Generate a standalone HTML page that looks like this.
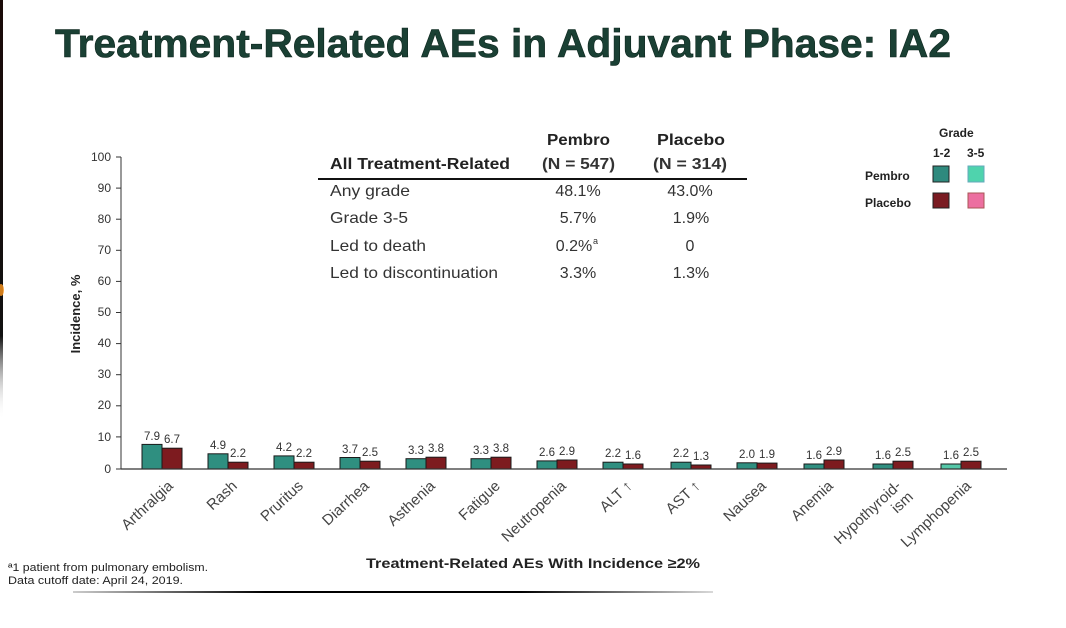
<!DOCTYPE html>
<html><head><meta charset="utf-8"><style>
html,body{margin:0;padding:0;background:#fff;}
svg{display:block;}
text{font-family:"Liberation Sans",Arial,sans-serif;}
</style></head><body>
<svg width="1066" height="628" viewBox="0 0 1066 628" xmlns="http://www.w3.org/2000/svg">
<defs>
<linearGradient id="lstrip" x1="0" y1="0" x2="0" y2="1">
<stop offset="0" stop-color="#1a0a08"/><stop offset="0.8" stop-color="#111"/><stop offset="1" stop-color="#fff" stop-opacity="0"/>
</linearGradient>
<linearGradient id="bline" x1="0" y1="0" x2="1" y2="0">
<stop offset="0" stop-color="#000" stop-opacity="0.2"/><stop offset="0.3" stop-color="#000"/><stop offset="0.7" stop-color="#000"/><stop offset="1" stop-color="#000" stop-opacity="0.15"/>
</linearGradient>
</defs>
<rect x="0" y="0" width="1066" height="628" fill="#fff"/>
<rect x="0" y="0" width="3" height="420" fill="url(#lstrip)"/>
<ellipse cx="1" cy="290" rx="3" ry="6" fill="#f2901e" opacity="0.85"/>

<!-- Title -->
<text x="55" y="57" font-size="40" font-weight="bold" fill="#1a4034" stroke="#0c241c" stroke-width="0.6" textLength="896" lengthAdjust="spacingAndGlyphs">Treatment-Related AEs in Adjuvant Phase: IA2</text>

<!-- Y axis -->
<g stroke="#333" stroke-width="1">
<line x1="121" y1="157" x2="121" y2="469"/>
<line x1="116" y1="157" x2="121" y2="157"/>
<line x1="116" y1="188.1" x2="121" y2="188.1"/>
<line x1="116" y1="219.2" x2="121" y2="219.2"/>
<line x1="116" y1="250.3" x2="121" y2="250.3"/>
<line x1="116" y1="281.4" x2="121" y2="281.4"/>
<line x1="116" y1="312.5" x2="121" y2="312.5"/>
<line x1="116" y1="343.6" x2="121" y2="343.6"/>
<line x1="116" y1="374.7" x2="121" y2="374.7"/>
<line x1="116" y1="405.8" x2="121" y2="405.8"/>
<line x1="116" y1="436.9" x2="121" y2="436.9"/>
<line x1="116" y1="469" x2="121" y2="469"/>
</g>
<g font-size="12" fill="#333" text-anchor="end">
<text x="111" y="161">100</text>
<text x="111" y="192">90</text>
<text x="111" y="223">80</text>
<text x="111" y="254">70</text>
<text x="111" y="285">60</text>
<text x="111" y="316">50</text>
<text x="111" y="347">40</text>
<text x="111" y="378">30</text>
<text x="111" y="409">20</text>
<text x="111" y="441">10</text>
<text x="111" y="473">0</text>
</g>
<text transform="translate(80,314) rotate(-90)" font-size="13" font-weight="bold" fill="#222" text-anchor="middle">Incidence, %</text>

<!-- Bars -->
<g stroke="#1a1a1a" stroke-width="1">
<rect x="142" y="444.4" width="20" height="24.6" fill="#2f8f80"/><rect x="162" y="448.2" width="20" height="20.8" fill="#7d1b1f"/>
<rect x="208" y="453.8" width="20" height="15.2" fill="#2f8f80"/><rect x="228" y="462.2" width="20" height="6.8" fill="#7d1b1f"/>
<rect x="274" y="455.9" width="20" height="13.1" fill="#2f8f80"/><rect x="294" y="462.2" width="20" height="6.8" fill="#7d1b1f"/>
<rect x="340" y="457.5" width="20" height="11.5" fill="#2f8f80"/><rect x="360" y="461.2" width="20" height="7.8" fill="#7d1b1f"/>
<rect x="406" y="458.7" width="20" height="10.3" fill="#2f8f80"/><rect x="426" y="457.2" width="20" height="11.8" fill="#7d1b1f"/>
<rect x="471" y="458.7" width="20" height="10.3" fill="#2f8f80"/><rect x="491" y="457.2" width="20" height="11.8" fill="#7d1b1f"/>
<rect x="537" y="460.9" width="20" height="8.1" fill="#2f8f80"/><rect x="557" y="460" width="20" height="9" fill="#7d1b1f"/>
<rect x="603" y="462.2" width="20" height="6.8" fill="#2f8f80"/><rect x="623" y="464" width="20" height="5" fill="#7d1b1f"/>
<rect x="671" y="462.2" width="20" height="6.8" fill="#2f8f80"/><rect x="691" y="465" width="20" height="4" fill="#7d1b1f"/>
<rect x="737" y="462.8" width="20" height="6.2" fill="#2f8f80"/><rect x="757" y="463.1" width="20" height="5.9" fill="#7d1b1f"/>
<rect x="804" y="464" width="20" height="5" fill="#2f8f80"/><rect x="824" y="460" width="20" height="9" fill="#7d1b1f"/>
<rect x="873" y="464" width="20" height="5" fill="#2f8f80"/><rect x="893" y="461.2" width="20" height="7.8" fill="#7d1b1f"/>
<rect x="941" y="464" width="20" height="5" fill="#55c7a8"/><rect x="961" y="461.2" width="20" height="7.8" fill="#7d1b1f"/>
</g>
<!-- X axis -->
<line x1="121" y1="469" x2="1007" y2="469" stroke="#333" stroke-width="1.2"/>

<!-- value labels -->
<g font-size="11.5" fill="#333" text-anchor="middle">
<text x="152" y="440">7.9</text><text x="172" y="443">6.7</text>
<text x="218" y="449">4.9</text><text x="238" y="457">2.2</text>
<text x="284" y="451">4.2</text><text x="304" y="457">2.2</text>
<text x="350" y="453">3.7</text><text x="370" y="456">2.5</text>
<text x="416" y="454">3.3</text><text x="436" y="452">3.8</text>
<text x="481" y="454">3.3</text><text x="501" y="452">3.8</text>
<text x="547" y="456">2.6</text><text x="567" y="455">2.9</text>
<text x="613" y="457">2.2</text><text x="633" y="459">1.6</text>
<text x="681" y="457">2.2</text><text x="701" y="460">1.3</text>
<text x="747" y="458">2.0</text><text x="767" y="458">1.9</text>
<text x="814" y="459">1.6</text><text x="834" y="455">2.9</text>
<text x="883" y="459">1.6</text><text x="903" y="456">2.5</text>
<text x="951" y="459">1.6</text><text x="971" y="456">2.5</text>
</g>

<!-- category labels -->
<g font-size="15" fill="#444" text-anchor="end">
<text transform="translate(174,487) rotate(-43)">Arthralgia</text>
<text transform="translate(238,487) rotate(-43)">Rash</text>
<text transform="translate(304,487) rotate(-43)">Pruritus</text>
<text transform="translate(370,487) rotate(-43)">Diarrhea</text>
<text transform="translate(436,487) rotate(-43)">Asthenia</text>
<text transform="translate(501,487) rotate(-43)">Fatigue</text>
<text transform="translate(567,487) rotate(-43)">Neutropenia</text>
<text transform="translate(633,487) rotate(-43)">ALT ↑</text>
<text transform="translate(701,487) rotate(-43)">AST ↑</text>
<text transform="translate(767,487) rotate(-43)">Nausea</text>
<text transform="translate(834,487) rotate(-43)">Anemia</text>
<text transform="translate(902,487) rotate(-43)">Hypothyroid-</text>
<text transform="translate(914,498) rotate(-43)">ism</text>
<text transform="translate(972,487) rotate(-43)">Lymphopenia</text>
</g>

<text x="366" y="568" font-size="14" font-weight="bold" fill="#222" textLength="334" lengthAdjust="spacingAndGlyphs">Treatment-Related AEs With Incidence ≥2%</text>

<!-- Table -->
<g fill="#222">
<text x="547" y="145" font-size="16" font-weight="bold" textLength="63" lengthAdjust="spacingAndGlyphs">Pembro</text>
<text x="657" y="145" font-size="16" font-weight="bold" textLength="68" lengthAdjust="spacingAndGlyphs">Placebo</text>
<text x="330" y="169" font-size="16" font-weight="bold" textLength="180" lengthAdjust="spacingAndGlyphs">All Treatment-Related</text>
<text x="542" y="169" font-size="16" textLength="73" lengthAdjust="spacingAndGlyphs" font-weight="bold" fill="#333">(N = 547)</text>
<text x="653" y="169" font-size="16" textLength="74" lengthAdjust="spacingAndGlyphs" font-weight="bold" fill="#333">(N = 314)</text>
</g>
<line x1="318" y1="179" x2="747" y2="179" stroke="#111" stroke-width="2"/>
<g font-size="16" fill="#333">
<text x="330" y="196" textLength="80" lengthAdjust="spacingAndGlyphs">Any grade</text>
<text x="330" y="223" textLength="78" lengthAdjust="spacingAndGlyphs">Grade 3-5</text>
<text x="330" y="251" textLength="96" lengthAdjust="spacingAndGlyphs">Led to death</text>
<text x="330" y="278" textLength="168" lengthAdjust="spacingAndGlyphs">Led to discontinuation</text>
</g>
<g font-size="16" fill="#333" text-anchor="middle">
<text x="578" y="196">48.1%</text><text x="690" y="196">43.0%</text>
<text x="578" y="223">5.7%</text><text x="691" y="223">1.9%</text>
<text x="574" y="251">0.2%</text><text x="690" y="251">0</text>
<text x="578" y="278">3.3%</text><text x="691" y="278">1.3%</text>
</g>
<text x="593" y="244" font-size="9" fill="#333">a</text>

<!-- Legend -->
<g font-size="12" font-weight="bold" fill="#222">
<text x="939" y="137">Grade</text>
<text x="933" y="157">1-2</text>
<text x="967" y="157">3-5</text>
<text x="865" y="180">Pembro</text>
<text x="865" y="207">Placebo</text>
</g>
<g stroke="#222" stroke-width="1">
<rect x="933" y="166" width="16" height="16" fill="#2f8a7e"/>
<rect x="968" y="166" width="16" height="16" fill="#4fd3ad" stroke="#6ab"/>
<rect x="933" y="193" width="16" height="15" fill="#7a1b22"/>
<rect x="968" y="193" width="16" height="15" fill="#ec6fa0" stroke="#a55"/>
</g>

<!-- Footnotes -->
<g font-size="11" fill="#222">
<text x="8" y="571" textLength="200" lengthAdjust="spacingAndGlyphs">ª1 patient from pulmonary embolism.</text>
<text x="8" y="584" textLength="175" lengthAdjust="spacingAndGlyphs">Data cutoff date: April 24, 2019.</text>
</g>
<rect x="73" y="591" width="640" height="2" fill="url(#bline)"/>
</svg>
</body></html>
